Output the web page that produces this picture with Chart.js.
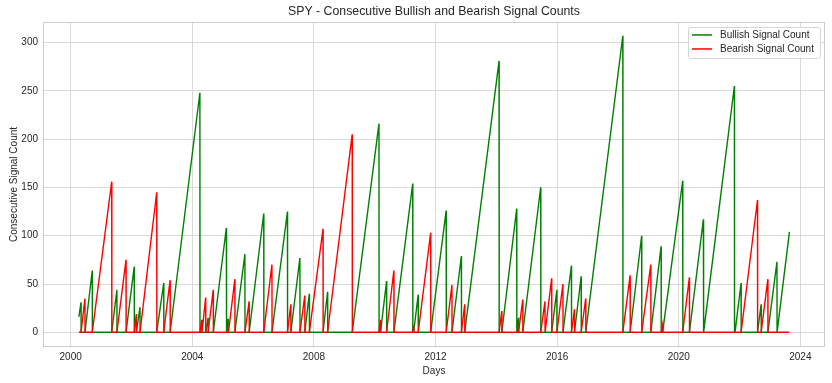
<!DOCTYPE html>
<html>
<head>
<meta charset="utf-8">
<script src="https://cdn.jsdelivr.net/npm/chart.js@4.4.0/dist/chart.umd.min.js"></script>
<style>
  html, body { margin: 0; padding: 0; background: #fff; }
  #wrap { width: 832px; height: 383px; }
</style>
</head>
<body>
<div id="wrap"><canvas id="signalChart" width="832" height="383"></canvas></div>
<script>
// each run: start (decimal year), end (decimal year), count reached at the end
const bullStart = [2000.27, 2000.47, 2001.35, 2001.82, 2002.16, 2002.83, 2003.27, 2004.44, 2004.69, 2005.13,
  2005.40, 2005.87, 2006.62, 2007.24, 2007.70, 2008.30, 2009.26, 2010.19, 2010.63, 2011.28,
  2011.84, 2012.54, 2012.96, 2014.18, 2014.68, 2014.87, 2015.82, 2016.19, 2016.57, 2016.94,
  2018.40, 2019.08, 2019.47, 2020.35, 2020.82, 2021.85, 2022.59, 2022.93, 2023.24];
const bullEnd = [2000.34, 2000.71, 2001.52, 2002.09, 2002.28, 2003.06, 2004.25, 2004.52, 2005.12, 2005.18,
  2005.73, 2006.35, 2007.13, 2007.54, 2007.85, 2008.45, 2010.14, 2010.39, 2011.25, 2011.43,
  2012.35, 2012.85, 2014.09, 2014.67, 2014.73, 2015.46, 2015.99, 2016.47, 2016.79, 2018.16,
  2018.78, 2019.42, 2020.13, 2020.81, 2021.83, 2022.05, 2022.71, 2023.23, 2023.64];
const bullPeak = [31, 64, 44, 68, 26, 51, 248, 15, 108, 14,
  81, 123, 125, 77, 40, 42, 216, 53, 154, 39,
  126, 79, 281, 128, 15, 150, 44, 69, 58, 307,
  100, 89, 157, 117, 255, 51, 29, 73, 104];

const bearStart = [2000.34, 2000.71, 2001.52, 2002.09, 2002.28, 2003.06, 2004.25, 2004.32, 2004.52, 2005.19,
  2005.73, 2006.35, 2007.13, 2007.54, 2007.85, 2008.45, 2010.14, 2010.39, 2011.25, 2011.43,
  2012.35, 2012.85, 2014.09, 2014.73, 2015.46, 2015.61, 2015.99, 2016.47, 2016.79, 2018.16,
  2018.78, 2019.42, 2020.13, 2022.05, 2022.71];
const bearEnd = [2000.47, 2001.35, 2001.82, 2002.16, 2002.83, 2003.27, 2004.31, 2004.44, 2004.69, 2005.40,
  2005.87, 2006.62, 2007.24, 2007.70, 2008.30, 2009.26, 2010.19, 2010.63, 2011.28, 2011.84,
  2012.54, 2012.96, 2014.18, 2014.87, 2015.60, 2015.82, 2016.19, 2016.57, 2016.94, 2018.40,
  2019.08, 2019.47, 2020.35, 2022.59, 2022.93];
const bearPeak = [35, 156, 75, 19, 145, 54, 13, 36, 44, 55,
  32, 70, 29, 38, 107, 205, 13, 64, 7, 103,
  49, 29, 22, 34, 32, 56, 50, 24, 35, 59,
  70, 8, 57, 137, 55];

const openingBull = 16;   // the data opens in the middle of a bullish run
const firstDay = 2000.27;
const lastDay = 2023.64;

const xTicks = [2000, 2004, 2008, 2012, 2016, 2020, 2024];
const yTicks = [0, 50, 100, 150, 200, 250, 300];

const labels = ['Bullish Signal Count', 'Bearish Signal Count'];
const colors = ['#008000', '#ff0000'];

const ONE_DAY = 0.004;
const FONT = "'Liberation Sans', Arial, sans-serif";
const INK = '#262626';
const GRID = '#d9d9d9';

function buildSeries(starts, ends, peaks, firstValue) {
  const pts = [{ x: firstDay, y: firstValue }];
  starts.forEach((s, i) => {
    if (s > firstDay) pts.push({ x: s, y: 0 });
    pts.push({ x: ends[i], y: peaks[i] });
    if (ends[i] < lastDay) pts.push({ x: ends[i] + ONE_DAY, y: 0 });
  });
  if (pts[pts.length - 1].x < lastDay) pts.push({ x: lastDay, y: 0 });
  return pts;
}

const frameAndLegend = {
  id: 'frameAndLegend',
  beforeDatasetsDraw(chart) {
    const { ctx, chartArea: a } = chart;
    ctx.save();
    ctx.strokeStyle = '#cccccc';
    ctx.lineWidth = 1;
    ctx.strokeRect(a.left + 0.5, a.top + 0.5, a.right - a.left - 1, a.bottom - a.top - 1);
    ctx.restore();
  },
  afterDatasetsDraw(chart) {
    const { ctx, chartArea: a } = chart;
    const w = 132, h = 31;
    const x = a.right - 5 - w, y = a.top + 5;
    ctx.save();
    ctx.fillStyle = 'rgba(255,255,255,0.8)';
    ctx.strokeStyle = '#d6d6d6';
    ctx.lineWidth = 1;
    ctx.beginPath();
    ctx.roundRect(x + 0.5, y + 0.5, w, h, 2);
    ctx.fill();
    ctx.stroke();
    ctx.font = `10px ${FONT}`;
    ctx.textBaseline = 'middle';
    labels.forEach((text, i) => {
      const ly = y + 8 + i * 14;
      ctx.strokeStyle = colors[i];
      ctx.lineWidth = 1.5;
      ctx.beginPath();
      ctx.moveTo(x + 4, ly);
      ctx.lineTo(x + 24, ly);
      ctx.stroke();
      ctx.fillStyle = INK;
      ctx.fillText(text, x + 32, ly);
    });
    ctx.restore();
  }
};

new Chart(document.getElementById('signalChart'), {
  type: 'line',
  data: {
    datasets: [
      { label: labels[0], data: buildSeries(bullStart, bullEnd, bullPeak, openingBull),
        borderColor: colors[0], borderWidth: 1.4, order: 1 },
      { label: labels[1], data: buildSeries(bearStart, bearEnd, bearPeak, 0),
        borderColor: colors[1], borderWidth: 1.4, order: 0 },
    ],
  },
  options: {
    responsive: false,
    animation: false,
    devicePixelRatio: 1,
    elements: { point: { radius: 0 }, line: { tension: 0 } },
    layout: { padding: { left: 0, right: 7, top: 0, bottom: 0 } },
    plugins: {
      legend: { display: false },
      tooltip: { enabled: false },
      title: {
        display: true,
        fullSize: false,
        text: 'SPY - Consecutive Bullish and Bearish Signal Counts',
        color: INK,
        font: { family: FONT, size: 12.3, weight: 'normal' },
        padding: { top: 4.5, bottom: 2.7 },
      },
    },
    scales: {
      x: {
        type: 'linear',
        min: 1999.09,
        max: 2024.81,
        afterBuildTicks: (scale) => { scale.ticks = xTicks.map((value) => ({ value })); },
        afterFit: (scale) => { scale.height = 36; },
        ticks: { color: INK, font: { family: FONT, size: 10 }, padding: 4.5, maxRotation: 0,
          callback: (v) => String(v) },
        grid: { color: GRID, drawTicks: false },
        border: { display: false },
        title: { display: true, text: 'Days', color: INK, font: { family: FONT, size: 10 },
          padding: { top: 0, bottom: 5.5 } },
      },
      y: {
        min: -15.2,
        max: 321.3,
        afterBuildTicks: (scale) => { scale.ticks = yTicks.map((value) => ({ value })); },
        afterFit: (scale) => { scale.width = 43; },
        ticks: { color: INK, font: { family: FONT, size: 10 }, padding: 5,
          callback: (v) => String(v) },
        grid: { color: GRID, drawTicks: false },
        border: { display: false },
        title: { display: true, text: 'Consecutive Signal Count', color: INK, font: { family: FONT, size: 10 },
          padding: { top: 8, bottom: 0 } },
      },
    },
  },
  plugins: [frameAndLegend],
});
</script>
</body>
</html>
